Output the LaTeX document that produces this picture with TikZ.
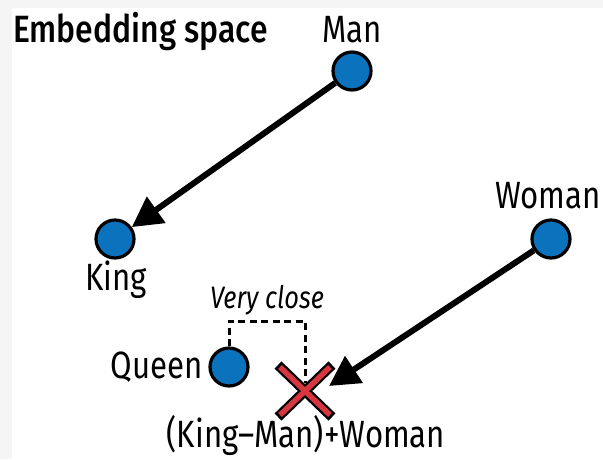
\documentclass[tikz,border=0pt]{standalone}
\usepackage{fontspec}
\setmainfont{Fira Sans}[FakeStretch=0.82]
\newfontfamily\titlefont{Fira Sans Medium}[FakeStretch=0.84]
\usetikzlibrary{arrows.meta,calc}
\definecolor{ptblue}{HTML}{0B72BD}
\definecolor{xred}{HTML}{D7353F}
\definecolor{bggray}{HTML}{F5F5F5}
\tikzset{
  pt/.style={circle, draw=black, line width=3.2pt, fill=ptblue, minimum size=38pt, inner sep=0pt},
  lbl/.style={font=\fontsize{38}{40}\selectfont, inner sep=0pt},
  ttl/.style={font=\fontsize{38}{40}\selectfont\titlefont, inner sep=0pt},
  note/.style={font=\fontsize{31}{33}\selectfont\itshape, inner sep=0pt},
  vec/.style={line width=6pt, -{Triangle[length=30pt,width=31pt]}},
  closeline/.style={line width=3pt, dash pattern=on 7pt off 4.5pt},
}
\begin{document}
\begin{tikzpicture}[x=1pt,y=-1pt]
\useasboundingbox (0,0) rectangle (603,459);
\fill[bggray] (0,0) rectangle (603,459);
\fill[white] (12,8) rectangle (603,459);
% points
\node[pt] (man) at (352,71) {};
\node[pt] (king) at (115,239) {};
\node[pt] (woman) at (551,239) {};
\node[pt] (queen) at (229,367) {};
\coordinate (xc) at (305,391);
\coordinate (xtip) at (329,386);
\coordinate (vc) at (305,321);
% labels
\node[ttl, anchor=base west] (title) at (13,42) {Embedding space};
\node[lbl, anchor=base] (manl) at (352,42) {Man};
\node[lbl, anchor=base] (kingl) at (116,290) {King};
\node[lbl, anchor=base east] (womanl) at (601,208) {Woman};
\node[lbl, anchor=base east] (queenl) at (203,378) {Queen};
\node[note, anchor=base] (closel) at (267,308) {Very close};
\node[lbl, anchor=base] (resl) at (306,447) {(King–Man)+Woman};
% dashed bracket
\draw[closeline] (queen.north) |- (vc) -- ($(xc)+(0,-8)$);
% vectors
\draw[vec] (man) -- (king);
\draw[vec] (woman) -- (xtip);
% cross
\begin{scope}[shift={(xc)}]
  \draw[line width=10pt, black] (-27,-26) -- (27,26) (-27,26) -- (27,-26);
  \draw[line width=5.5pt, xred] (-25,-24) -- (25,24) (-25,24) -- (25,-24);
\end{scope}
\end{tikzpicture}
\end{document}
